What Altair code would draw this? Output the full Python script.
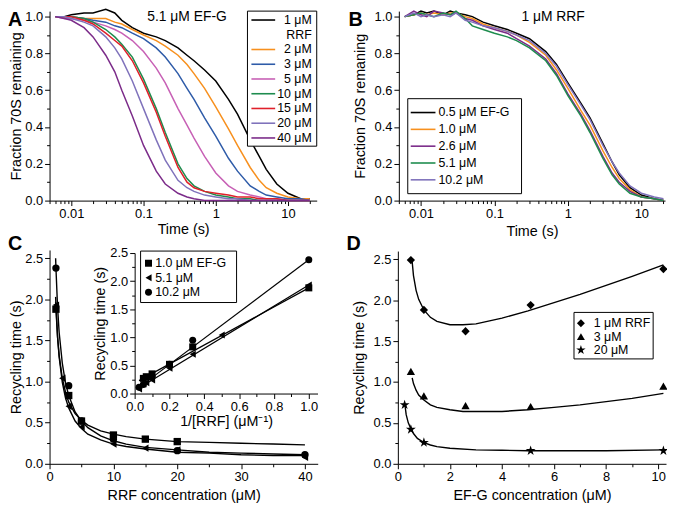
import altair as alt
import pandas as pd

FONT = "Liberation Sans"
W, H = 666, 498
STAR = ("M0,-1L0.2245,-0.309L0.9511,-0.309L0.3633,0.118L0.5878,0.809L0,0.382"
        "L-0.5878,0.809L-0.3633,0.118L-0.9511,-0.309L-0.2245,-0.309Z")

# ---------------- Panel A : 5.1 uM EF-G, varying RRF ----------------
time_a = [0.006, 0.008, 0.01, 0.015, 0.02, 0.03, 0.04, 0.05, 0.07, 0.1, 0.15, 0.2,
          0.3, 0.4, 0.5, 0.7, 1, 1.5, 2, 3, 4, 5, 7, 10, 15, 20]
labels_a = ["1 μM", "2 μM", "3 μM", "5 μM", "10 μM", "15 μM", "20 μM", "40 μM"]
colors_a = ["#000000", "#f7901e", "#2e5ba8", "#c760b5", "#1e8c4e", "#e0202a", "#7f72bb", "#7b2b89"]
frac_a_1 = [1.00, 1.00, 1.01, 1.02, 1.02, 1.04, 1.02, 0.98, 0.94, 0.91, 0.89, 0.87, 0.83, 0.79, 0.76, 0.71, 0.65, 0.55, 0.47, 0.33, 0.24, 0.17, 0.09, 0.04, 0.01, 0.01]
frac_a_2 = [1.00, 1.00, 1.00, 0.99, 0.99, 0.99, 0.97, 0.96, 0.93, 0.90, 0.87, 0.84, 0.79, 0.74, 0.69, 0.61, 0.51, 0.39, 0.30, 0.18, 0.11, 0.07, 0.04, 0.02, 0.01, 0.01]
frac_a_3 = [1.00, 1.00, 1.00, 0.99, 0.98, 0.97, 0.95, 0.94, 0.91, 0.88, 0.83, 0.78, 0.69, 0.61, 0.55, 0.45, 0.35, 0.23, 0.16, 0.08, 0.05, 0.03, 0.02, 0.01, 0.01, 0.00]
frac_a_5 = [1.00, 0.99, 0.99, 0.98, 0.97, 0.95, 0.93, 0.91, 0.87, 0.81, 0.72, 0.64, 0.50, 0.41, 0.34, 0.24, 0.15, 0.08, 0.05, 0.03, 0.02, 0.01, 0.01, 0.00, 0.00, 0.00]
frac_a_10 = [1.00, 1.00, 1.00, 0.99, 0.97, 0.93, 0.89, 0.85, 0.78, 0.66, 0.50, 0.37, 0.20, 0.12, 0.08, 0.05, 0.03, 0.02, 0.01, 0.01, 0.00, 0.00, 0.00, 0.00, 0.00, 0.00]
frac_a_15 = [1.00, 1.00, 1.00, 0.98, 0.96, 0.91, 0.87, 0.84, 0.76, 0.64, 0.48, 0.35, 0.18, 0.10, 0.07, 0.05, 0.04, 0.03, 0.02, 0.02, 0.01, 0.01, 0.01, 0.00, 0.00, 0.00]
frac_a_20 = [1.00, 1.00, 0.99, 0.97, 0.95, 0.89, 0.83, 0.77, 0.65, 0.50, 0.33, 0.22, 0.11, 0.07, 0.05, 0.03, 0.02, 0.01, 0.01, 0.00, 0.00, 0.00, 0.00, 0.00, 0.00, 0.00]
frac_a_40 = [1.00, 0.99, 0.98, 0.94, 0.89, 0.79, 0.70, 0.60, 0.46, 0.30, 0.16, 0.09, 0.04, 0.02, 0.01, 0.00, 0.00, 0.00, 0.00, 0.00, 0.00, 0.00, 0.00, 0.00, 0.00, 0.00]
series_a = [frac_a_1, frac_a_2, frac_a_3, frac_a_5, frac_a_10, frac_a_15, frac_a_20, frac_a_40]
note_a = "5.1 μM EF-G"
legend_a = ["1 μM", "RRF", "2 μM", "3 μM", "5 μM", "10 μM", "15 μM", "20 μM", "40 μM"]
legend_a_colors = ["#000000", "transparent", "#f7901e", "#2e5ba8", "#c760b5", "#1e8c4e", "#e0202a", "#7f72bb", "#7b2b89"]

# ---------------- Panel B : 1 uM RRF, varying EF-G ----------------
time_b = [0.006, 0.008, 0.01, 0.012, 0.015, 0.02, 0.025, 0.03, 0.04, 0.05, 0.07, 0.1, 0.15,
          0.2, 0.3, 0.5, 0.7, 1, 1.5, 2, 3, 4, 5, 7, 10, 15, 20]
labels_b = ["\u20070.5 μM EF-G", "\u20071.0 μM", "\u20072.6 μM", "\u20075.1 μM", "10.2 μM"]
colors_b = ["#000000", "#f7901e", "#7b2b89", "#1e8c4e", "#7f72bb"]
frac_b_05 = [1.00, 1.01, 1.03, 1.02, 1.03, 1.01, 1.03, 1.02, 1.01, 1.00, 0.97, 0.95, 0.93, 0.91, 0.88, 0.81, 0.74, 0.64, 0.53, 0.45, 0.31, 0.21, 0.14, 0.07, 0.03, 0.01, 0.00]
frac_b_10 = [1.00, 1.01, 1.02, 1.01, 1.02, 1.01, 1.02, 1.02, 1.00, 0.99, 0.96, 0.94, 0.92, 0.90, 0.86, 0.79, 0.71, 0.61, 0.49, 0.41, 0.27, 0.18, 0.12, 0.06, 0.02, 0.01, 0.00]
frac_b_26 = [1.00, 1.03, 1.01, 1.00, 1.03, 1.02, 1.01, 1.02, 0.99, 0.98, 0.95, 0.93, 0.91, 0.88, 0.84, 0.77, 0.69, 0.58, 0.47, 0.38, 0.24, 0.15, 0.10, 0.05, 0.02, 0.01, 0.00]
frac_b_51 = [1.00, 1.01, 1.02, 1.01, 1.00, 1.02, 1.01, 1.03, 0.99, 0.95, 0.93, 0.91, 0.89, 0.87, 0.83, 0.76, 0.68, 0.57, 0.46, 0.37, 0.23, 0.14, 0.09, 0.04, 0.02, 0.01, 0.00]
frac_b_102 = [1.00, 1.02, 1.00, 1.01, 1.00, 1.01, 1.00, 1.02, 0.98, 0.97, 0.95, 0.94, 0.92, 0.90, 0.87, 0.80, 0.73, 0.63, 0.52, 0.44, 0.30, 0.21, 0.15, 0.08, 0.04, 0.02, 0.01]
series_b = [frac_b_05, frac_b_10, frac_b_26, frac_b_51, frac_b_102]
note_b = "1 μM RRF"

# ---------------- Panel C : recycling time vs RRF ----------------
labels_c = ["\u20071.0 μM EF-G", "\u20075.1 μM", "10.2 μM"]
shapes_c = ["square", "triangle-left", "circle"]
rrf_sq = [1, 3, 5, 10, 15, 20]
time_sq = [1.88, 0.83, 0.52, 0.35, 0.30, 0.27]
rrf_tri = [1, 2, 3, 5, 10, 15, 20, 40]
time_tri = [1.93, 1.04, 0.70, 0.45, 0.24, 0.19, 0.17, 0.08]
rrf_circ = [1, 3, 5, 10, 20, 40]
time_circ = [2.38, 0.95, 0.52, 0.30, 0.16, 0.11]
fit_rrf = [0.95, 1, 1.25, 1.5, 2, 2.5, 3, 4, 5, 6, 8, 10, 12, 15, 20, 25, 30, 35, 40]
fit_sq = [1.97, 1.88, 1.54, 1.32, 1.04, 0.87, 0.75, 0.61, 0.53, 0.47, 0.40, 0.36, 0.33, 0.30, 0.27, 0.26, 0.25, 0.24, 0.23]
fit_tri = [2.03, 1.93, 1.55, 1.30, 0.99, 0.80, 0.68, 0.52, 0.43, 0.36, 0.29, 0.24, 0.21, 0.18, 0.14, 0.13, 0.11, 0.10, 0.10]
fit_circ = [2.50, 2.38, 1.91, 1.60, 1.22, 0.98, 0.83, 0.63, 0.52, 0.44, 0.34, 0.28, 0.24, 0.20, 0.17, 0.14, 0.13, 0.12, 0.11]
inv_fit_x = [0.025, 1.0]
inv_fit_sq = [0.23, 1.88]
inv_fit_tri = [0.10, 1.93]
inv_fit_circ = [0.11, 2.38]

# ---------------- Panel D : recycling time vs EF-G ----------------
labels_d = ["\u20071 μM RRF", "\u20073 μM", "20 μM"]
shapes_d = ["diamond", "triangle-up", STAR]
efg_1 = [0.5, 1.0, 2.6, 5.1, 10.2]
time_1 = [2.49, 1.88, 1.62, 1.94, 2.38]
efg_3 = [0.5, 1.0, 2.6, 5.1, 10.2]
time_3 = [1.13, 0.83, 0.71, 0.70, 0.95]
efg_20 = [0.26, 0.5, 1.0, 5.1, 10.2]
time_20 = [0.72, 0.42, 0.26, 0.16, 0.16]
fit_efg_1 = [0.55, 0.6, 0.7, 0.8, 1.0, 1.25, 1.5, 2.0, 2.5, 3.0, 4, 5, 6, 7, 8, 9, 10.2]
fit_1 = [2.47, 2.30, 2.12, 2.01, 1.88, 1.79, 1.74, 1.70, 1.70, 1.71, 1.78, 1.87, 1.97, 2.07, 2.18, 2.29, 2.43]
fit_efg_3 = [0.55, 0.6, 0.7, 0.8, 1.0, 1.25, 1.5, 2.0, 2.5, 3.0, 4, 5, 6, 7, 8, 9, 10.2]
fit_3 = [1.05, 0.98, 0.90, 0.84, 0.78, 0.72, 0.69, 0.66, 0.64, 0.64, 0.64, 0.66, 0.69, 0.72, 0.76, 0.80, 0.86]
fit_efg_20 = [0.28, 0.32, 0.4, 0.5, 0.6, 0.75, 1.0, 1.25, 1.5, 2, 3, 4, 5, 6, 8, 10.2]
fit_20 = [0.70, 0.60, 0.50, 0.43, 0.37, 0.31, 0.26, 0.23, 0.21, 0.19, 0.17, 0.165, 0.16, 0.16, 0.16, 0.17]

# ---------------- tables ----------------
dfA = pd.DataFrame([{"t": t, "f": f, "s": lab} for lab, ys in zip(labels_a, series_a)
                    for t, f in zip(time_a, ys)])
dfB = pd.DataFrame([{"t": t, "f": f, "s": lab} for lab, ys in zip(labels_b, series_b)
                    for t, f in zip(time_b, ys)])
dfCp = pd.DataFrame(
    [{"x": x, "y": y, "s": labels_c[0]} for x, y in zip(rrf_sq, time_sq)]
    + [{"x": x, "y": y, "s": labels_c[1]} for x, y in zip(rrf_tri, time_tri)]
    + [{"x": x, "y": y, "s": labels_c[2]} for x, y in zip(rrf_circ, time_circ)])
dfCf = pd.DataFrame([{"x": x, "y": y, "s": lab} for lab, ys in
                     zip(labels_c, [fit_sq, fit_tri, fit_circ]) for x, y in zip(fit_rrf, ys)])
dfCi = pd.DataFrame([{"x": x, "y": y, "s": lab} for lab, ys in
                     zip(labels_c, [inv_fit_sq, inv_fit_tri, inv_fit_circ]) for x, y in zip(inv_fit_x, ys)])
dfDp = pd.DataFrame(
    [{"x": x, "y": y, "s": labels_d[0]} for x, y in zip(efg_1, time_1)]
    + [{"x": x, "y": y, "s": labels_d[1]} for x, y in zip(efg_3, time_3)])
dfDs = pd.DataFrame([{"x": x, "y": y, "s": labels_d[2]} for x, y in zip(efg_20, time_20)])
dfDf = pd.DataFrame(
    [{"x": x, "y": y, "s": labels_d[0]} for x, y in zip(fit_efg_1, fit_1)]
    + [{"x": x, "y": y, "s": labels_d[1]} for x, y in zip(fit_efg_3, fit_3)]
    + [{"x": x, "y": y, "s": labels_d[2]} for x, y in zip(fit_efg_20, fit_20)])


# ---------------- helpers ----------------
def sc(domain, rng, kind="linear"):
    return alt.Scale(type=kind, domain=domain, range=rng, nice=False, zero=False)


def ax_x(ypix, values, fmt=None, title=None, minor=False, tpad=3):
    kw = dict(orient="bottom", offset=ypix - H, values=values, grid=False)
    if minor:
        kw.update(labels=False, domain=False, tickSize=3, title=None)
    else:
        kw.update(tickSize=5, title=title, titlePadding=tpad, labelPadding=2)
        if fmt:
            kw["format"] = fmt
    return alt.Axis(**kw)


def ax_y(xpix, values, fmt=None, title=None, minor=False, tpad=3):
    kw = dict(orient="left", offset=-xpix, values=values, grid=False)
    if minor:
        kw.update(labels=False, domain=False, tickSize=3, title=None)
    else:
        kw.update(tickSize=5, title=title, titlePadding=tpad, labelPadding=2)
        if fmt:
            kw["format"] = fmt
    return alt.Axis(**kw)


def decade_minor(lo_exp, hi_exp, maxv):
    vals = []
    for e in range(lo_exp, hi_exp + 1):
        for m in range(2, 10):
            v = round(m * 10 ** e, 6)
            if 0.005 <= v <= maxv:
                vals.append(v)
    return vals


def legend_box(x0, x1, y0, y1):
    return alt.Chart(pd.DataFrame({"k": [0]})).mark_rect(
        fill="white", stroke="black", strokeWidth=1).encode(
        x=alt.value(x0), x2=alt.value(x1), y=alt.value(y0), y2=alt.value(y1))


def legend_text(labels, yscale, xpix, align):
    df = pd.DataFrame({"i": list(range(len(labels))), "s": labels})
    return alt.Chart(df).mark_text(font=FONT, fontSize=12.5, align=align, baseline="middle").encode(
        x=alt.value(xpix), y=alt.Y("i:Q", scale=yscale, axis=None), text="s:N")


def legend_lines(labels, colors, yscale, x0, x1):
    df = pd.DataFrame({"i": list(range(len(labels))), "s": labels})
    return alt.Chart(df).mark_rule(strokeWidth=1.6).encode(
        x=alt.value(x0), x2=alt.value(x1), y=alt.Y("i:Q", scale=yscale, axis=None),
        color=alt.Color("s:N", scale=alt.Scale(domain=labels, range=colors), legend=None))


def legend_symbols(labels, idx, shape_scale, yscale, xpix, size):
    df = pd.DataFrame({"i": idx, "s": [labels[k] for k in idx]})
    return alt.Chart(df).mark_point(filled=True, color="black", opacity=1, size=size).encode(
        x=alt.value(xpix), y=alt.Y("i:Q", scale=yscale, axis=None),
        shape=alt.Shape("s:N", scale=shape_scale, legend=None))


layers = []

# ---------- A ----------
xA = sc([0.005, 25], [42, 312], "log")
yA = sc([0, 1.03], [192, 0.5])
layers.append(alt.Chart(dfA).mark_line(strokeWidth=1.5).encode(
    x=alt.X("t:Q", scale=xA, axis=ax_x(192, [0.01, 0.1, 1, 10], "~g", "Time (s)", tpad=2)),
    y=alt.Y("f:Q", scale=yA, axis=ax_y(42, [0, 0.2, 0.4, 0.6, 0.8, 1.0], ".1f",
                                       "Fraction 70S remaining", tpad=1)),
    color=alt.Color("s:N", scale=alt.Scale(domain=labels_a, range=colors_a), legend=None),
))
layers.append(alt.Chart(dfA).mark_point(opacity=0).encode(
    x=alt.X("t:Q", scale=xA, axis=ax_x(192, decade_minor(-3, 1, 25), minor=True)),
    y=alt.Y("f:Q", scale=yA, axis=ax_y(42, [0.1, 0.3, 0.5, 0.7, 0.9], minor=True)),
))
layers.append(alt.Chart(pd.DataFrame({"t": [0.4], "f": [1.0], "s": [note_a]})).mark_text(
    font=FONT, fontSize=14, align="center", baseline="middle").encode(
    x=alt.X("t:Q", scale=xA, axis=None), y=alt.Y("f:Q", scale=yA, axis=None), text="s:N"))
yLegA = sc([0, 8], [9.5, 9.5 + 8 * 14.9])
layers += [legend_box(242, 312, 0.5, 137),
           legend_lines(legend_a, legend_a_colors, yLegA, 246, 270),
           legend_text(legend_a, yLegA, 307, "right")]

# ---------- B ----------
xB = sc([0.005, 21], [395, 664], "log")
yB = sc([0, 1.03], [192, 0.5])
layers.append(alt.Chart(dfB).mark_line(strokeWidth=1.5).encode(
    x=alt.X("t:Q", scale=xB, axis=ax_x(192, [0.01, 0.1, 1, 10], "~g", "Time (s)", tpad=4)),
    y=alt.Y("f:Q", scale=yB, axis=ax_y(395, [0, 0.2, 0.4, 0.6, 0.8, 1.0], ".1f",
                                       "Fraction 70S remaning", tpad=7)),
    color=alt.Color("s:N", scale=alt.Scale(domain=labels_b, range=colors_b), legend=None),
))
layers.append(alt.Chart(dfB).mark_point(opacity=0).encode(
    x=alt.X("t:Q", scale=xB, axis=ax_x(192, decade_minor(-3, 1, 21), minor=True)),
    y=alt.Y("f:Q", scale=yB, axis=ax_y(395, [0.1, 0.3, 0.5, 0.7, 0.9], minor=True)),
))
layers.append(alt.Chart(pd.DataFrame({"t": [0.63], "f": [1.0], "s": [note_b]})).mark_text(
    font=FONT, fontSize=14, align="center", baseline="middle").encode(
    x=alt.X("t:Q", scale=xB, axis=None), y=alt.Y("f:Q", scale=yB, axis=None), text="s:N"))
yLegB = sc([0, 4], [103, 171])
layers += [legend_box(404, 519, 89, 185),
           legend_lines(labels_b, colors_b, yLegB, 407, 432),
           legend_text(labels_b, yLegB, 435, "left")]

# ---------- C ----------
xC = sc([0, 42], [42, 313])
yC = sc([0, 2.6], [458, 241.9])
shapeC = alt.Scale(domain=labels_c, range=shapes_c)
layers.append(alt.Chart(dfCf).mark_line(color="black", strokeWidth=1.4).encode(
    x=alt.X("x:Q", scale=xC, axis=ax_x(458, [0, 10, 20, 30, 40], "d", "RRF concentration (μM)", tpad=5)),
    y=alt.Y("y:Q", scale=yC, axis=ax_y(42, [0, 0.5, 1.0, 1.5, 2.0, 2.5], ".1f",
                                       "Recycling time (s)", tpad=1)),
    detail="s:N"))
layers.append(alt.Chart(dfCp).mark_point(filled=True, color="black", opacity=1, size=55).encode(
    x=alt.X("x:Q", scale=xC, axis=ax_x(458, [5, 15, 25, 35], minor=True)),
    y=alt.Y("y:Q", scale=yC, axis=ax_y(42, [0.25, 0.75, 1.25, 1.75, 2.25], minor=True)),
    shape=alt.Shape("s:N", scale=shapeC, legend=None)))
# inset
xI = sc([0, 1.05], [128, 312.8])
yI = sc([0, 2.5], [387, 245])
layers.append(alt.Chart(dfCi).mark_line(color="black", strokeWidth=1.2).encode(
    x=alt.X("x:Q", scale=xI, axis=ax_x(387, [0, 0.2, 0.4, 0.6, 0.8, 1.0], ".1f",
                                       "1/[RRF] (μM⁻¹)", tpad=1)),
    y=alt.Y("y:Q", scale=yI, axis=ax_y(128, [0, 0.5, 1.0, 1.5, 2.0, 2.5], ".1f",
                                       "Recycling time (s)", tpad=2)),
    detail="s:N"))
layers.append(alt.Chart(dfCp).transform_calculate(inv="1 / datum.x").mark_point(
    filled=True, color="black", opacity=1, size=50).encode(
    x=alt.X("inv:Q", scale=xI, axis=ax_x(387, [0.1, 0.3, 0.5, 0.7, 0.9], minor=True)),
    y=alt.Y("y:Q", scale=yI, axis=ax_y(128, [0.25, 0.75, 1.25, 1.75, 2.25], minor=True)),
    shape=alt.Shape("s:N", scale=shapeC, legend=None)))
yLegC = sc([0, 2], [255.3, 284.7])
layers += [legend_box(134, 231, 243, 295),
           legend_symbols(labels_c, [0, 1, 2], shapeC, yLegC, 142, 50),
           legend_text(labels_c, yLegC, 148.7, "left")]

# ---------- D ----------
xD = sc([0, 10.3], [394, 665])
yD = sc([0, 2.6], [458, 243])
shapeD = alt.Scale(domain=labels_d, range=shapes_d)
layers.append(alt.Chart(dfDf).mark_line(color="black", strokeWidth=1.4).encode(
    x=alt.X("x:Q", scale=xD, axis=ax_x(458, [0, 2, 4, 6, 8, 10], "d", "EF-G concentration (μM)", tpad=5)),
    y=alt.Y("y:Q", scale=yD, axis=ax_y(394, [0, 0.5, 1.0, 1.5, 2.0, 2.5], ".1f",
                                       "Recycling time (s)", tpad=7)),
    detail="s:N"))
layers.append(alt.Chart(dfDp).mark_point(filled=True, color="black", opacity=1, size=70).encode(
    x=alt.X("x:Q", scale=xD, axis=ax_x(458, [1, 3, 5, 7, 9], minor=True)),
    y=alt.Y("y:Q", scale=yD, axis=ax_y(394, [0.25, 0.75, 1.25, 1.75, 2.25], minor=True)),
    shape=alt.Shape("s:N", scale=shapeD, legend=None)))
layers.append(alt.Chart(dfDs).mark_point(filled=True, color="black", opacity=1, size=110).encode(
    x=alt.X("x:Q", scale=xD, axis=None),
    y=alt.Y("y:Q", scale=yD, axis=None),
    shape=alt.Shape("s:N", scale=shapeD, legend=None)))
yLegD = sc([0, 2], [316, 343])
layers += [legend_box(572, 652, 305, 352),
           legend_symbols(labels_d, [0, 1], shapeD, yLegD, 579, 65),
           legend_symbols(labels_d, [2], shapeD, yLegD, 579, 100),
           legend_text(labels_d, yLegD, 592, "left")]

# ---------- panel letters ----------
for letter, px, py in [("A", 0, 16), ("B", 344, 16), ("C", 0, 242), ("D", 342, 242)]:
    layers.append(alt.Chart(pd.DataFrame({"s": [letter]})).mark_text(
        font=FONT, fontSize=20, fontWeight="bold", align="left", baseline="alphabetic").encode(
        x=alt.value(px), y=alt.value(py), text="s:N"))

chart = alt.layer(*layers).properties(
    width=W, height=H, autosize=alt.AutoSizeParams(type="none"), padding=0
).resolve_scale(
    x="independent", y="independent", color="independent", shape="independent"
).configure_view(stroke=None).configure_axis(
    labelFont=FONT, titleFont=FONT, labelFontSize=13, titleFontSize=14.5,
    titleFontWeight="normal", labelColor="black", titleColor="black",
    domainColor="black", tickColor="black", labelFlush=False, labelOverlap=False,
)

chart.save("out.html", embed_options={"renderer": "svg", "actions": False})
